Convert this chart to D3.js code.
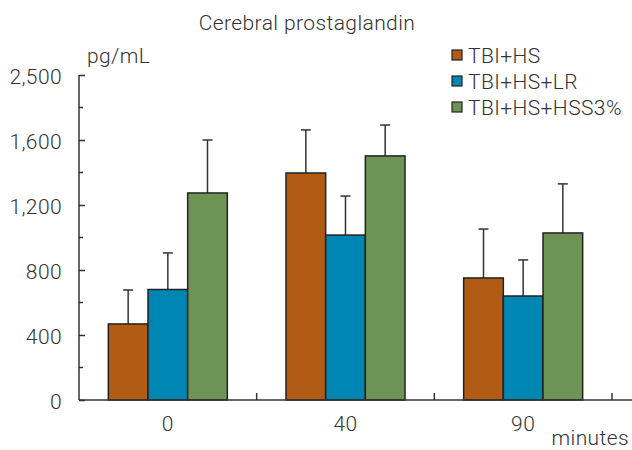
<!DOCTYPE html>
<html>
<head>
<meta charset="utf-8">
<script src="https://cdn.jsdelivr.net/npm/d3@7"></script>
<style>
  body { margin: 0; background: #fff; }
  text { font-family: Roboto, "Noto Sans", sans-serif; font-weight: 300; fill: #333; letter-spacing: 0.4px; }
</style>
</head>
<body>
<div id="chart"></div>
<script>
const groups = ['0', '40', '90'];
const series = ['TBI+HS', 'TBI+HS+LR', 'TBI+HS+HSS3%'];
const colors = ['#b25b15', '#0086b2', '#6e9455'];
// mean values per series, one entry per group
const means = [
    [468, 1397, 751],
    [680, 1015, 640],
    [1274, 1502, 1028]
];
// upper error bar ends
const errTops = [
    [677, 1662, 1052],
    [905, 1255, 862],
    [1600, 1692, 1330]
];
const tickValues = [0, 400, 800, 1200, 1600, 2000];
const tickLabels = ['0', '400', '800', '1,200', '1,600', '2,500'];
const minorTicks = [200, 600, 1000, 1400, 1800];

const width = 632, height = 450;
const plotLeft = 79, plotRight = 612, plotTop = 75, plotBottom = 400;
const fontSize = 21;

const svg = d3.select('#chart')
    .append('svg')
    .attr('width', width)
    .attr('height', height);

const x = d3.scaleBand()
    .domain(groups)
    .range([plotLeft, plotRight]);

const xInner = d3.scaleBand()
    .domain(series)
    .range([x.bandwidth() / 2 - 59.5, x.bandwidth() / 2 + 59.5]);

const y = d3.scaleLinear()
    .domain([0, 2000])
    .range([plotBottom, plotTop]);

// title
svg.append('text')
    .attr('x', 307)
    .attr('y', 30)
    .attr('text-anchor', 'middle')
    .attr('font-size', fontSize)
    .text('Cerebral prostaglandin');

svg.append('text')
    .attr('x', 87)
    .attr('y', 63)
    .attr('font-size', fontSize)
    .text('pg/mL');

svg.append('text')
    .attr('x', 629)
    .attr('y', 445)
    .attr('text-anchor', 'end')
    .attr('font-size', fontSize)
    .text('minutes');

// bars
const data = [];
series.forEach((s, si) => {
    groups.forEach((g, gi) => {
        data.push({ group: g, series: s, si: si, value: means[si][gi], err: errTops[si][gi] });
    });
});

const barG = svg.append('g');

barG.selectAll('line.err')
    .data(data)
    .enter()
    .append('line')
    .attr('class', 'err')
    .attr('x1', d => x(d.group) + xInner(d.series) + xInner.bandwidth() / 2)
    .attr('x2', d => x(d.group) + xInner(d.series) + xInner.bandwidth() / 2)
    .attr('y1', d => y(d.value))
    .attr('y2', d => y(d.err))
    .attr('stroke', '#333')
    .attr('stroke-width', 1.5);

barG.selectAll('line.cap')
    .data(data)
    .enter()
    .append('line')
    .attr('class', 'cap')
    .attr('x1', d => x(d.group) + xInner(d.series) + xInner.bandwidth() / 2 - 5)
    .attr('x2', d => x(d.group) + xInner(d.series) + xInner.bandwidth() / 2 + 5)
    .attr('y1', d => y(d.err))
    .attr('y2', d => y(d.err))
    .attr('stroke', '#333')
    .attr('stroke-width', 1.5);

barG.selectAll('rect')
    .data(data)
    .enter()
    .append('rect')
    .attr('x', d => x(d.group) + xInner(d.series))
    .attr('y', d => y(d.value))
    .attr('width', xInner.bandwidth())
    .attr('height', d => y(0) - y(d.value))
    .attr('fill', d => colors[d.si])
    .attr('stroke', '#222')
    .attr('stroke-width', 1.5);

// y axis
const yAxis = d3.axisLeft(y)
    .tickValues(tickValues)
    .tickFormat((d, i) => tickLabels[i])
    .tickSize(7)
    .tickPadding(17);

const yg = svg.append('g')
    .attr('transform', `translate(${plotLeft},0)`)
    .call(yAxis);
yg.select('.domain').remove();
yg.selectAll('.tick line')
    .attr('x2', 6).attr('x1', 0)
    .attr('stroke', '#333').attr('stroke-width', 1.5);
yg.selectAll('.tick text')
    .attr('x', -17)
    .attr('dy', '0.42em')
    .attr('font-size', fontSize)
    .attr('font-family', 'Roboto, "Noto Sans", sans-serif')
    .attr('fill', '#333');

yg.selectAll('line.minor')
    .data(minorTicks)
    .enter()
    .append('line')
    .attr('class', 'minor')
    .attr('x1', 0).attr('x2', 4)
    .attr('y1', d => y(d)).attr('y2', d => y(d))
    .attr('stroke', '#333').attr('stroke-width', 1.5);

svg.append('line')
    .attr('x1', plotLeft).attr('x2', plotLeft)
    .attr('y1', y(2000)).attr('y2', y(0))
    .attr('stroke', '#333').attr('stroke-width', 1.5);

// x axis
svg.append('line')
    .attr('x1', plotLeft).attr('x2', width)
    .attr('y1', y(0)).attr('y2', y(0))
    .attr('stroke', '#333').attr('stroke-width', 1.5);

// group separators
svg.selectAll('line.sep')
    .data(groups)
    .enter()
    .append('line')
    .attr('class', 'sep')
    .attr('x1', d => x(d) + x.bandwidth())
    .attr('x2', d => x(d) + x.bandwidth())
    .attr('y1', y(0))
    .attr('y2', y(0) - 7)
    .attr('stroke', '#333').attr('stroke-width', 1.5);

svg.selectAll('text.xlab')
    .data(groups)
    .enter()
    .append('text')
    .attr('class', 'xlab')
    .attr('x', d => x(d) + x.bandwidth() / 2)
    .attr('y', 431)
    .attr('text-anchor', 'middle')
    .attr('font-size', fontSize)
    .text(d => d);

// legend
const legend = svg.selectAll('g.legend')
    .data(series)
    .enter()
    .append('g')
    .attr('class', 'legend')
    .attr('transform', (d, i) => `translate(452,${50 + i * 26})`);

legend.append('rect')
    .attr('width', 10)
    .attr('height', 10)
    .attr('fill', (d, i) => colors[i])
    .attr('stroke', '#222')
    .attr('stroke-width', 1.2);

legend.append('text')
    .attr('x', 16)
    .attr('y', 13)
    .attr('font-size', fontSize)
    .text(d => d);
</script>
</body>
</html>
